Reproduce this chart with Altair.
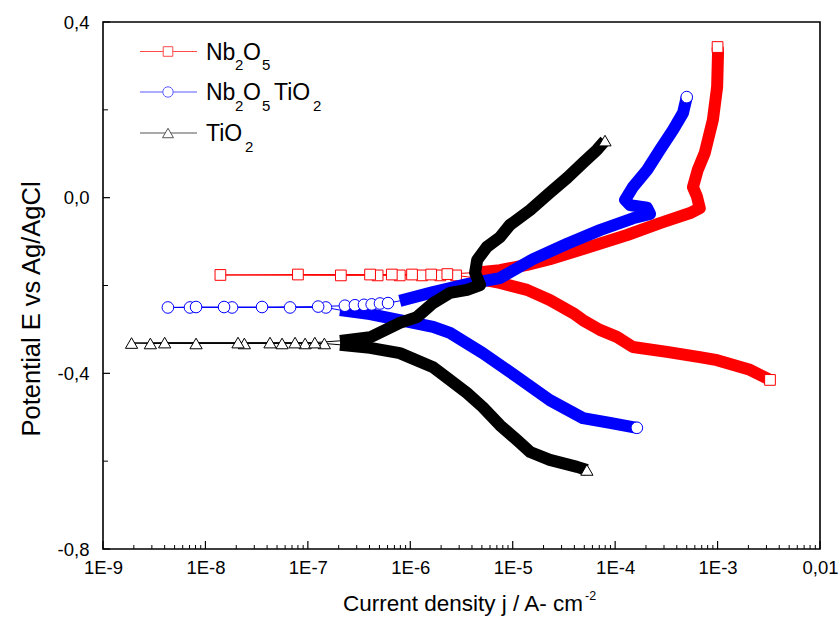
import altair as alt
import pandas as pd

FONT = "Liberation Sans"

# ---------------- data ----------------
# current density j (A/cm2) and potential E (V vs Ag/AgCl)
series_names = ["Nb2O5", "Nb2O5TiO2", "TiO2"]
series_colors = ["#ff0000", "#0000ff", "#000000"]
series_shapes = ["square", "circle", "triangle-up"]

# Nb2O5
nb_cath_j = [3.25e-3, 2.07e-3, 9.9e-4, 6.7e-4, 3.2e-4, 1.49e-4, 1.04e-4, 7.1e-5, 4.85e-5, 3.9e-5, 2.3e-5, 1.38e-5, 7.5e-6, 3.8e-6]
nb_cath_E = [-0.415, -0.392, -0.370, -0.363, -0.351, -0.340, -0.317, -0.301, -0.279, -0.263, -0.233, -0.210, -0.194, -0.181]
nb_sp_j = [2.8e-6, 1.96e-6, 1.3e-6, 7.9e-7, 4.8e-7, 2.1e-7, 1.4e-8, 8.0e-8, 4.05e-7, 6.6e-7, 1.04e-6, 1.6e-6, 2.3e-6]
nb_sp_E = [-0.177, -0.177, -0.177, -0.177, -0.177, -0.177, -0.176, -0.175, -0.175, -0.175, -0.175, -0.175, -0.174]
nb_an_j = [4.8e-6, 7.5e-6, 1.38e-5, 2.3e-5, 4.85e-5, 1.31e-4, 2.74e-4, 5.4e-4, 6.7e-4, 6.3e-4, 5.75e-4, 6.4e-4, 7.5e-4, 9.0e-4, 9.9e-4, 1.01e-3, 1.0e-3]
nb_an_E = [-0.170, -0.165, -0.153, -0.140, -0.117, -0.085, -0.058, -0.035, -0.024, 0.002, 0.024, 0.063, 0.102, 0.177, 0.252, 0.329, 0.343]

# Nb2O5TiO2
nt_cath_j = [1.63e-4, 8.9e-5, 4.85e-5, 2.3e-5, 1.1e-5, 5.1e-6, 2.44e-6, 1.67e-6, 7.9e-7, 4.05e-7, 2.06e-7]
nt_cath_E = [-0.524, -0.513, -0.502, -0.461, -0.408, -0.354, -0.308, -0.294, -0.279, -0.265, -0.256]
nt_sp_j = [1.5e-7, 6.7e-8, 1.82e-8, 7.07e-9, 4.3e-9, 8.1e-9, 1.52e-8, 3.57e-8, 1.26e-7, 2.3e-7, 2.88e-7, 3.53e-7, 4.2e-7, 5.06e-7, 6.06e-7]
nt_sp_E = [-0.250, -0.250, -0.250, -0.250, -0.250, -0.249, -0.249, -0.249, -0.248, -0.246, -0.245, -0.244, -0.243, -0.241, -0.240]
nt_an_j = [7.9e-7, 1.67e-6, 3.58e-6, 7.5e-6, 1.58e-5, 3.4e-5, 7.1e-5, 1.49e-4, 2.19e-4, 2.05e-4, 1.40e-4, 1.25e-4, 1.49e-4, 2.05e-4, 2.74e-4, 3.67e-4, 4.6e-4, 5.0e-4]
nt_an_E = [-0.235, -0.215, -0.197, -0.183, -0.140, -0.105, -0.074, -0.047, -0.037, -0.023, -0.017, -0.005, 0.024, 0.063, 0.109, 0.154, 0.193, 0.229]

# TiO2
ti_cath_j = [5.3e-5, 4.25e-5, 2.3e-5, 1.48e-5, 1.1e-5, 7.5e-6, 5.1e-6, 3.58e-6, 2.44e-6, 1.67e-6, 7.9e-7, 4.05e-7, 2.06e-7]
ti_cath_E = [-0.620, -0.613, -0.597, -0.579, -0.552, -0.518, -0.477, -0.445, -0.415, -0.386, -0.354, -0.342, -0.335]
ti_sp_j = [1.45e-7, 9.4e-8, 5.6e-8, 2.4e-8, 8.1e-9, 2.9e-9, 1.9e-9, 4.0e-9, 2.08e-8, 4.27e-8, 7.5e-8, 1.17e-7]
ti_sp_E = [-0.332, -0.332, -0.332, -0.332, -0.332, -0.332, -0.331, -0.330, -0.330, -0.330, -0.330, -0.330]
ti_an_j = [2.06e-7, 4.05e-7, 7.9e-7, 1.16e-6, 1.67e-6, 2.44e-6, 3.58e-6, 4.8e-6, 4.29e-6, 4.5e-6, 5.6e-6, 7.5e-6, 9.4e-6, 1.48e-5, 2.3e-5, 3.4e-5, 4.85e-5, 6.65e-5, 7.96e-5]
ti_an_E = [-0.326, -0.318, -0.285, -0.272, -0.240, -0.217, -0.210, -0.199, -0.171, -0.142, -0.112, -0.090, -0.062, -0.028, 0.011, 0.045, 0.079, 0.109, 0.130]

x_tick_labels = ["1E-9", "1E-8", "1E-7", "1E-6", "1E-5", "1E-4", "1E-3", "0,01"]
x_major = [1e-9, 1e-8, 1e-7, 1e-6, 1e-5, 1e-4, 1e-3, 1e-2]
x_minor = [m * d for d in x_major[:-1] for m in range(2, 10)]
y_major = [-0.8, -0.4, 0.0, 0.4]
y_minor = [-0.6, -0.2, 0.2]

# ---------------- layout ----------------
W, H = 717, 527
L, T = 103, 22

def build(name, cj, cE, sj, sE, aj, aE):
    rows = []
    k = 0
    for seg, js, es in (("cath", cj, cE), ("sparse", sj, sE), ("anod", aj, aE)):
        for j, e in zip(js, es):
            rows.append({"series": name, "seg": seg, "j": j, "E": e, "k": k})
            k += 1
    df = pd.DataFrame(rows)
    df["mark"] = df["seg"] == "sparse"
    df.loc[0, "mark"] = True
    df.loc[len(df) - 1, "mark"] = True
    return df

frames = [
    build("Nb2O5", nb_cath_j, nb_cath_E, nb_sp_j, nb_sp_E, nb_an_j, nb_an_E),
    build("Nb2O5TiO2", nt_cath_j, nt_cath_E, nt_sp_j, nt_sp_E, nt_an_j, nt_an_E),
    build("TiO2", ti_cath_j, ti_cath_E, ti_sp_j, ti_sp_E, ti_an_j, ti_an_E),
]

xscale = alt.Scale(type="log", domain=[1e-9, 1e-2])
yscale = alt.Scale(domain=[-0.8, 0.4], nice=False, zero=False)

x_axis = alt.Axis(values=x_major, ticks=False, grid=False, domain=False,
                  labelExpr="datum.value > 0.005 ? '0,01' : '1E-' + round(-log(datum.value)/LN10)",
                  labelFont=FONT, labelFontSize=18.5, labelColor="black", labelPadding=9,
                  labelFlush=False, labelOverlap=False, title=None)
y_axis = alt.Axis(values=y_major, ticks=False, grid=False, domain=False,
                  labelExpr="(datum.value < 0 ? '-' : '') + '0,' + round(abs(datum.value)*10)",
                  labelFont=FONT, labelFontSize=18.5, labelColor="black", labelPadding=14,
                  labelFlush=False, labelOverlap=False, title=None)

X = alt.X("j:Q", scale=xscale, axis=x_axis)
Y = alt.Y("E:Q", scale=yscale, axis=y_axis)

sizes = {"square": 115, "circle": 135, "triangle-up": 150}

layers = []
for df, col, shp in zip(frames, series_colors, series_shapes):
    base = alt.Chart(df)
    layers.append(base.mark_line(color=col, strokeWidth=1).encode(x=X, y=Y, order="k:Q"))
    layers.append(base.transform_filter("datum.seg != 'sparse'").mark_line(
        color=col, strokeWidth=12, strokeJoin="round", strokeCap="butt").encode(
        x=X, y=Y, order="k:Q", detail="seg:N"))
    layers.append(base.transform_filter("datum.mark").mark_point(
        shape=shp, size=sizes[shp], fill="white", stroke=col, strokeWidth=1,
        opacity=1, filled=False).encode(x=X, y=Y))

# inward ticks
tx_major = pd.DataFrame({"j": x_major})
tx_minor = pd.DataFrame({"j": x_minor})
ty_major = pd.DataFrame({"E": y_major})
ty_minor = pd.DataFrame({"E": y_minor})
layers.append(alt.Chart(tx_major).mark_rule(color="black", strokeWidth=1.2).encode(
    x=X, y=alt.value(H), y2=alt.value(H - 8)))
layers.append(alt.Chart(tx_minor).mark_rule(color="black", strokeWidth=1).encode(
    x=X, y=alt.value(H), y2=alt.value(H - 4)))
layers.append(alt.Chart(ty_major).mark_rule(color="black", strokeWidth=1.2).encode(
    y=Y, x=alt.value(0), x2=alt.value(7)))
layers.append(alt.Chart(ty_minor).mark_rule(color="black", strokeWidth=1).encode(
    y=Y, x=alt.value(0), x2=alt.value(5)))

one = pd.DataFrame({"t": [""]})

def txt(s, x, y, size, angle=0, align="left", baseline="alphabetic"):
    return alt.Chart(pd.DataFrame({"t": [s]})).mark_text(
        font=FONT, fontSize=size, align=align, baseline=baseline, angle=angle,
        color="black").encode(text="t:N", x=alt.value(x - L), y=alt.value(y - T))

# legend
legend_rows = [51.5, 92, 133]
legend_line_cols = ["#ff4a4a", "#5a5aff", "#555555"]
for ry, lc, col, shp in zip(legend_rows, legend_line_cols, series_colors, series_shapes):
    layers.append(alt.Chart(one).mark_rule(color=lc, strokeWidth=1).encode(
        x=alt.value(140 - L), x2=alt.value(197 - L), y=alt.value(ry - T)))
    layers.append(alt.Chart(one).mark_point(
        shape=shp, size=sizes[shp] * 0.8, fill="white", stroke=lc, strokeWidth=1,
        opacity=1, filled=False).encode(x=alt.value(168 - L), y=alt.value(ry - T)))

MS, SS = 23, 15
b1, b2, b3 = 59.5, 100, 141
d = 10.5
layers += [
    txt("Nb", 206, b1, MS), txt("2", 235, b1 + d, SS), txt("O", 243, b1, MS), txt("5", 262, b1 + d, SS),
    txt("Nb", 206, b2, MS), txt("2", 235, b2 + d, SS), txt("O", 243, b2, MS), txt("5", 262, b2 + d, SS),
    txt("TiO", 274, b2, MS), txt("2", 313, b2 + d, SS),
    txt("TiO", 206, b3, MS), txt("2", 245, b3 + d, SS),
]

# axis titles
layers.append(txt("Current density j / A- cm", 343, 611, 22.5))
layers.append(txt("-2", 585, 600, 12.5))
layers.append(txt("Potential E vs Ag/AgCl", 40, 309, 25.5, angle=270, align="center"))

chart = alt.layer(*layers).properties(
    width=W, height=H,
    padding={"left": L, "top": T, "right": 838 - L - W, "bottom": 626 - T - H},
    autosize=alt.AutoSizeParams(type="none"),
    background="white",
).configure_view(stroke="black", strokeWidth=1.6)

chart.save("out.html", embed_options={"renderer": "svg", "actions": False})
